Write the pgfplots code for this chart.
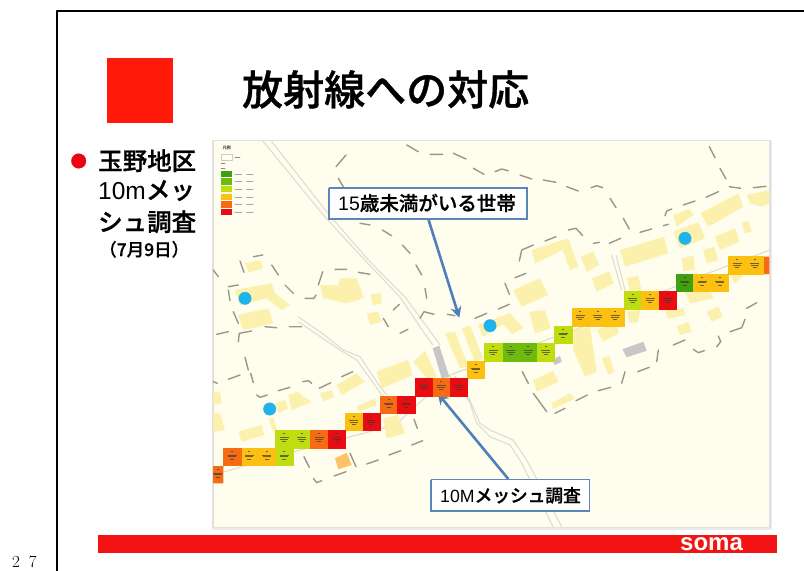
\documentclass[border=0pt]{standalone}
\usepackage{fontspec}
\usepackage{pgfplots}
\pgfplotsset{compat=1.18}
\usetikzlibrary{arrows.meta}
\newfontfamily\sans{Liberation Sans}
\newfontfamily\cjk{Noto Sans CJK JP}
\newfontfamily\cjkm[FakeBold=0.9]{Noto Sans CJK JP Medium}
\definecolor{slidered}{HTML}{FF1A0A}
\definecolor{barred}{HTML}{F51212}
\definecolor{mapbg}{HTML}{FEFDEE}
\definecolor{house}{HTML}{FBF1AC}
\definecolor{boundary}{HTML}{98988A}
\definecolor{road}{HTML}{DEDED0}
\definecolor{callout}{HTML}{5A86BC}
\definecolor{arrowblue}{HTML}{4F7FBA}
\definecolor{dot}{HTML}{1FB2EC}
\definecolor{bullet}{HTML}{EC0510}
\definecolor{classA}{HTML}{3FA012}
\definecolor{classB}{HTML}{6DBB0E}
\definecolor{classC}{HTML}{BFDD10}
\definecolor{classD}{HTML}{FBC011}
\definecolor{classE}{HTML}{F56C14}
\definecolor{classF}{HTML}{EA0C12}
% three short strokes: the reading printed inside a mesh cell
\pgfdeclareplotmark{cellnote}{%
  \pgfsetlinewidth{0.8bp}%
  \pgfpathmoveto{\pgfqpoint{-1bp}{5.5bp}}\pgfpathlineto{\pgfqpoint{1bp}{5.5bp}}%
  \pgfpathmoveto{\pgfqpoint{-4.5bp}{1.5bp}}\pgfpathlineto{\pgfqpoint{4.5bp}{1.5bp}}%
  \pgfpathmoveto{\pgfqpoint{-4bp}{0bp}}\pgfpathlineto{\pgfqpoint{4bp}{0bp}}%
  \pgfpathmoveto{\pgfqpoint{-2bp}{-2.5bp}}\pgfpathlineto{\pgfqpoint{2bp}{-2.5bp}}%
  \pgfusepathqstroke}
\pgfplotsset{
  meshcells/.style={only marks, mark=square*, mark size=8.7bp,
    mark options={draw=#1, fill=#1, line width=0.3bp}},
  blocks/.style={draw=none, fill=#1, unbounded coords=jump},
  strokes/.style={no marks, color=#1, unbounded coords=jump, line cap=round, line join=round}
}
\begin{document}
\begin{tikzpicture}
\path[use as bounding box] (0,0) rectangle (804bp,571bp);
\begin{axis}[
  at={(0,0)}, anchor=south west,
  width=804bp, height=571bp, scale only axis,
  xmin=0, xmax=804, ymin=0, ymax=571, y dir=reverse,
  hide axis, clip=true
]
% slide frame
\addplot[strokes=black, line width=2bp] coordinates {(57,571) (57,11) (804,11)};
\addplot[blocks=slidered] coordinates {(106.7,57.7) (172.7,57.7) (172.7,122.7) (106.7,122.7)};
\addplot[blocks=barred] coordinates {(98,535) (777,535) (777,553) (98,553)};
\addplot[only marks, mark=*, mark size=7.3bp, mark options={draw=bullet, fill=bullet}] coordinates {(78.7,161)};

% map sheet
\addplot[strokes=black!8, line width=2bp] coordinates {(771,141) (771,529) (213,529)};
\addplot[blocks=mapbg] coordinates {(213,140.5) (770,140.5) (770,527.5) (213,527.5)};
\addplot[strokes=black!12, line width=1.2bp] coordinates {(213,140.5) (770,140.5) (770,527.5) (213,527.5) (213,140.5)};

% roads
\addplot[strokes=road, line width=1.1bp] coordinates {
 (263.3,141.5) (323.3,215) (360,255) (400,297) (423.3,331.7) (433,345) (nan,nan)
 (271.7,141.5) (326.7,211.7) (366.7,258.3) (405,297) (428,328.3) (440,345) (nan,nan)
 (449,376) (468.3,396.7) (480,423.3) (490,430) (513,440) (526.7,460) (561.7,526.7) (nan,nan)
 (455,376) (470,403) (476.7,423.3) (490,436.7) (510,445) (521.7,463) (553,526.7) (nan,nan)
 (298.3,316.7) (310,325) (320,331.7) (343.3,350) (360,356.7) (380,386.7) (386.7,395) (nan,nan)
 (298.3,321.7) (313,331.7) (340,350) (356.7,360) (373.3,383) (381.7,395) (nan,nan)
 (611.7,255) (621.7,290) (nan,nan)
 (616,255) (625,290) (nan,nan)
 (213,475) (300,450) (395,425) (450,375) (583,326.7) (690,280) (770,250)
};

% buildings
\addplot[blocks=house] coordinates {
 (245,263.3) (260,260) (262.7,268.3) (248.3,272.3) (nan,nan)
 (235,290) (271.7,283.3) (275,293.3) (290,305) (281.7,310) (266.7,298.3) (240,305) (nan,nan)
 (238.3,315) (268.3,308.3) (273.3,323.3) (243.3,330) (nan,nan)
 (320,285) (338.3,285) (340,278.3) (356.7,278.3) (364,298.3) (346.7,303.3) (323.3,298.3) (nan,nan)
 (370.7,294.3) (380.7,293.3) (381.7,303.3) (372.7,305) (nan,nan)
 (366.7,313.3) (378.3,311.7) (381.7,321.7) (370,325) (nan,nan)
 (531.7,250) (568.3,238.3) (578.3,266.7) (570,270) (562.7,250) (535,263.3) (nan,nan)
 (580.7,256.7) (593.3,251.7) (599.3,265) (586.7,271.7) (nan,nan)
 (591.7,278.3) (609.3,271.7) (614,283.3) (596.7,291.7) (nan,nan)
 (620,250) (664,236.7) (668.3,253.3) (625,266.7) (nan,nan)
 (513.3,290) (540,278.3) (548.3,295) (521.7,306.7) (nan,nan)
 (529.3,311.7) (545,310) (550.7,328.3) (535,333.3) (nan,nan)
 (478,325) (510,313) (523,328) (512,334) (503,324) (483,337) (nan,nan)
 (673.3,215) (689.3,209) (693.3,215) (676.7,226.7) (nan,nan)
 (700.7,213.3) (738.3,193.3) (743.3,206.7) (708.3,226.7) (nan,nan)
 (673.3,231.7) (698.3,222.3) (705,238.3) (680,248.3) (nan,nan)
 (715,236.7) (735,228.3) (739.3,241.7) (720,250) (nan,nan)
 (741.7,223.3) (748.3,221) (751.7,231.7) (745,233.3) (nan,nan)
 (746.7,195) (769.3,190) (769.3,203.3) (761.7,206.7) (750,203.3) (nan,nan)
 (681.7,258.3) (693.3,255.7) (695,270) (683.3,271) (nan,nan)
 (703.3,250) (714,246.7) (718.3,260) (706.7,263.3) (nan,nan)
 (626.7,278.3) (638.3,275.7) (641.7,291.7) (630,291.7) (nan,nan)
 (685,291.7) (710,291.7) (713.3,298.3) (690,303.3) (nan,nan)
 (730,275) (743.3,275) (735,283.3) (nan,nan)
 (665,310) (683.3,308.3) (685,315) (668.3,319) (nan,nan)
 (706.7,311.7) (718.3,306.7) (722.7,316.7) (711.7,321.7) (nan,nan)
 (676.7,326.7) (688.3,321.7) (691.7,331.7) (680,335) (nan,nan)
 (626.7,311.7) (640,310) (638.3,321.7) (630,323.3) (nan,nan)
 (596.7,330) (616.7,323.3) (618.3,333.3) (603.3,341.7) (nan,nan)
 (573,330) (590,327) (596.7,371.7) (585,376.7) (573.3,350) (nan,nan)
 (601.7,358.3) (609.3,356) (614,371.7) (608.3,375) (nan,nan)
 (533.3,380) (553.3,370.7) (558.3,381.7) (536.7,391.7) (nan,nan)
 (551.7,403.3) (570,393.3) (575,398.3) (553.3,409) (nan,nan)
 (445,333.3) (455,331.7) (468.3,366.7) (460,368.3) (nan,nan)
 (461.7,328.3) (470,325.7) (483.3,358.3) (475,361.7) (nan,nan)
 (376.7,371.7) (408.3,360) (412.7,375) (381.7,388.3) (nan,nan)
 (413,362) (425,350.7) (436.7,376.7) (426.7,378.3) (nan,nan)
 (336.7,385) (356.7,373.3) (365,381.7) (341.7,395) (nan,nan)
 (320,393.3) (331.7,390) (334,396.7) (323.3,401.7) (nan,nan)
 (288.3,395) (298.3,391.7) (303.3,396.7) (311.7,401.7) (291.7,410) (nan,nan)
 (275,403.3) (285,400) (288.3,408.3) (278.3,413.3) (nan,nan)
 (238.3,431.7) (261.7,425) (264,435) (241.7,441.7) (nan,nan)
 (268.3,418.3) (273.3,417.3) (276.7,430) (273.3,431.7) (nan,nan)
 (213.3,391.7) (220,391.7) (221.7,403.3) (213.3,405) (nan,nan)
 (213.3,413.3) (220,413.3) (225,430) (213.3,431.7) (nan,nan)
 (356.7,406.7) (375,398.3) (376.7,405) (358.3,411.7) (nan,nan)
 (383.3,418.3) (398.3,415) (405,433.3) (386.7,438.3)
};
\addplot[blocks=orange!40!house] coordinates {(335,458.3) (346.7,452.7) (351.7,465) (338.3,469.3)};
\addplot[blocks=black!22] coordinates {
 (432.7,348.3) (439.3,345.7) (449.3,376.7) (441.7,378.3) (nan,nan)
 (622.3,349.3) (643.3,341.7) (646.7,350.7) (626.7,357.3) (nan,nan)
 (551.7,360) (560,356) (561.7,361.7) (555,365)
};

% dashed plot boundaries
\addplot[strokes=boundary, line width=1.4bp] coordinates {
 (336,166.7) (346,155) (nan,nan) (338.3,178.3) (343.3,186.7) (nan,nan)
 (406.7,145) (418.3,151.7) (nan,nan) (430,154.3) (442.7,154.3) (nan,nan)
 (453.3,153.3) (466,159) (nan,nan) (473.3,168.3) (484,174.3) (nan,nan)
 (360,223.3) (370,225) (nan,nan) (382.3,230) (391.7,235.7) (nan,nan)
 (402.3,245) (410,253.3) (nan,nan) (416,265) (421.7,275) (nan,nan)
 (425,288.3) (426.7,298.3) (nan,nan) (420,318.3) (424,311.7) (434,314.3) (nan,nan)
 (447.3,314.3) (455,315.7) (nan,nan) (475,318.3) (486.7,313.3) (nan,nan)
 (253.3,256.7) (262.7,255) (nan,nan) (240,261) (244,272.3) (nan,nan)
 (271.7,265) (278.3,275) (nan,nan) (213.3,270) (218.3,276.7) (nan,nan)
 (228.3,286.7) (238.3,285) (nan,nan) (228.3,290) (230,300.7) (nan,nan)
 (285,285) (293.3,293.3) (nan,nan) (305,298.3) (314,298.3) (316,295) (nan,nan)
 (318.3,285) (322.7,271.7) (nan,nan) (335,269.3) (346.7,269.3) (nan,nan)
 (358.3,272.3) (370,274.3) (nan,nan) (393.3,310) (399.3,304.3) (nan,nan)
 (383.3,318.3) (388.3,326.7) (nan,nan) (233.3,311.7) (238.3,323.3) (nan,nan)
 (265,326.7) (276.7,327.7) (nan,nan) (289.3,326.7) (301.7,326.7) (nan,nan)
 (216.7,334.3) (228.3,331.7) (nan,nan) (238.3,341.7) (239.3,333.3) (251.7,331) (nan,nan)
 (495,171.7) (501.7,169) (508.3,170.7) (nan,nan) (520,175) (531.7,179) (nan,nan)
 (543.3,180) (556,182.3) (nan,nan) (566.7,186.7) (578.3,191) (nan,nan)
 (591,187.7) (596.7,185.7) (602.7,187.7) (nan,nan) (610,198.3) (616,207.7) (nan,nan)
 (623.3,218.3) (629.3,229) (nan,nan) (640,232.3) (651.7,229) (nan,nan)
 (663.3,225.7) (668.3,224.3) (nan,nan) (665,215.7) (666.7,211) (671.7,209) (nan,nan)
 (683.3,205) (695,201) (nan,nan) (706,197.3) (718.3,191.7) (nan,nan)
 (729.3,186.7) (740.7,188.3) (nan,nan) (753.3,187.7) (766,186.3) (nan,nan)
 (709.3,146.7) (715,157.7) (nan,nan) (720,168.3) (726,179) (nan,nan)
 (568.3,230) (576,228.3) (582.7,235.7) (nan,nan) (545,241) (556,236.7) (nan,nan)
 (519.3,261) (521.7,250) (533.3,245) (nan,nan)
 (593.3,243.3) (599.3,242.3) (nan,nan) (609.3,243.3) (620.7,238.3) (nan,nan)
 (515,277.7) (526,273.3) (nan,nan) (505,283.3) (509.3,294.3) (nan,nan)
 (498.3,309) (509.3,304.3) (nan,nan) (746.7,308.3) (756.7,302.7) (nan,nan)
 (730,331.7) (741.7,327.7) (745,319.3) (nan,nan)
 (673.3,345) (685,340) (nan,nan) (693.3,349.3) (698.3,352.7) (704.3,350.7) (nan,nan)
 (716.7,346.7) (720.7,341.7) (718.3,336) (nan,nan)
 (658.3,350) (656.7,361.7) (nan,nan) (637.7,371.7) (649.3,367.3) (nan,nan)
 (621.7,383.3) (625,371.7) (nan,nan) (598.3,390.7) (610.7,387.3) (nan,nan)
 (576,400.7) (587.3,395) (nan,nan) (555,413.3) (565,408.3) (nan,nan)
 (533.3,393.3) (546.7,411.7) (nan,nan) (522.3,371.7) (528.3,383.3) (nan,nan)
 (400,333.3) (408,329.3) (nan,nan)
 (245,357.3) (248.3,370) (nan,nan) (250.7,373.3) (253.3,382.7) (nan,nan)
 (213.3,381.7) (217.3,383.3) (nan,nan) (228.3,379.3) (240,375) (nan,nan)
 (256.7,395) (260,397.3) (267.3,395) (nan,nan) (278.3,390.7) (290,387.3) (nan,nan)
 (302.7,381.7) (308.3,380.7) (311.7,383.3) (nan,nan) (319.3,388.3) (330.7,382.7) (nan,nan)
 (341.7,376.7) (352.7,371.7) (nan,nan)
 (304,456.7) (309.3,467.3) (nan,nan) (313.3,478.3) (316.7,482.7) (321.7,480.7) (nan,nan)
 (334,476) (346,471.7) (nan,nan) (350,453.3) (356,466.7) (nan,nan)
 (366.7,464) (378.3,460) (nan,nan) (389,455) (400.7,450.7) (nan,nan)
 (411.7,445) (422.7,440.7) (nan,nan) (414,419.3) (417.3,428.3)
};

% households with children under 15
\addplot[only marks, mark=*, mark size=6.2bp, mark options={draw=dot, fill=dot}] table {
x y
245 298.3
490 325.7
685 238.3
269.7 409
};

% 10 m mesh cells, one series per dose class
\addplot[meshcells=classB] table {
x y
510.7 352
528.1 352
};
\addplot[meshcells=classA] table {
x y
684.9 282.6
};
\addplot[meshcells=classC] table {
x y
284.3 456.7
284.3 439.3
301.7 439.3
493.3 352
545.6 352
563.0 334.6
632.7 300
};
\addplot[meshcells=classD] table {
x y
249.4 456.7
266.8 456.7
353.9 421.9
475.9 369.5
580.4 317.2
597.8 317.2
615.2 317.2
650.1 300
702.3 282.6
719.8 282.6
737.2 265.3
754.6 265.3
};
\addplot[meshcells=classE] table {
x y
232.0 456.7
319.1 439.3
388.8 404.5
441.0 387
};
\addplot[meshcells=classF] table {
x y
336.5 439.3
371.4 421.9
406.2 404.5
423.6 387
458.5 387
667.5 300
};
% cells cut off by the edge of the sheet
\addplot[blocks=classE] coordinates {
 (213,466) (223.3,466) (223.3,483.4) (213,483.4) (nan,nan)
 (763.4,256.7) (769.3,256.7) (769.3,274) (763.4,274)
};
\addplot[only marks, mark=cellnote, mark options={draw=black!75!olive, opacity=0.7}] table {
x y
217.5 474.7
232.0 456.7
249.4 456.7
266.8 456.7
284.3 456.7
284.3 439.3
301.7 439.3
319.1 439.3
336.5 439.3
353.9 421.9
371.4 421.9
388.8 404.5
406.2 404.5
423.6 387
441.0 387
458.5 387
475.9 369.5
493.3 352
510.7 352
528.1 352
545.6 352
563.0 334.6
580.4 317.2
597.8 317.2
615.2 317.2
632.7 300
650.1 300
667.5 300
684.9 282.6
702.3 282.6
719.8 282.6
737.2 265.3
754.6 265.3
};

% map legend
\addplot[strokes=black!20, line width=0.5bp] coordinates {(221,154.3) (232.7,154.3) (232.7,160) (221,160) (221,154.3)};
\addplot[strokes=black!45, line width=0.6bp] coordinates {
 (221,163.5) (225,163.5) (nan,nan) (221,167.8) (225,167.8) (nan,nan) (235,157) (240,157)};
\addplot[blocks=classA] coordinates {(221,171) (232.3,171) (232.3,177.3) (221,177.3)};
\addplot[blocks=classB] coordinates {(221,178.3) (232.3,178.3) (232.3,184.7) (221,184.7)};
\addplot[blocks=classC] coordinates {(221,186) (232.3,186) (232.3,192.3) (221,192.3)};
\addplot[blocks=classD] coordinates {(221,193.7) (232.3,193.7) (232.3,200) (221,200)};
\addplot[blocks=classE] coordinates {(221,201) (232.3,201) (232.3,207.7) (221,207.7)};
\addplot[blocks=classF] coordinates {(221,209) (232.3,209) (232.3,215) (221,215)};
\addplot[strokes=black!35, line width=0.6bp] coordinates {
 (235,174.2) (241.7,174.2) (nan,nan) (246.7,174.2) (253,174.2) (nan,nan)
 (235,181.5) (241.7,181.5) (nan,nan) (246.7,181.5) (253,181.5) (nan,nan)
 (235,189.2) (241.7,189.2) (nan,nan) (246.7,189.2) (253,189.2) (nan,nan)
 (235,196.8) (241.7,196.8) (nan,nan) (246.7,196.8) (253,196.8) (nan,nan)
 (235,204.3) (241.7,204.3) (nan,nan) (246.7,204.3) (253,204.3) (nan,nan)
 (235,212) (241.7,212) (nan,nan) (246.7,212) (253,212)
};
\node[anchor=center, inner sep=0pt, font=\cjk\bfseries\fontsize{4.2bp}{5bp}\selectfont, text=black!70] at (axis cs:226.7,148.3) {凡例};

% callouts and their arrows
\addplot[arrowblue, line width=2.6bp, no marks, -{Stealth[length=11bp,width=11bp]}] coordinates {(428.3,219) (459.3,317.7)};
\addplot[arrowblue, line width=2.6bp, no marks, -{Stealth[length=11bp,width=11bp]}] coordinates {(508.3,479) (437.7,393.3)};
\addplot[fill=white, draw=callout, line width=1.6bp] coordinates {(328.7,188) (526.7,188) (526.7,219) (328.7,219) (328.7,188)};
\addplot[fill=white, draw=callout, line width=1.6bp] coordinates {(430.7,479.5) (589.3,479.5) (589.3,511) (430.7,511) (430.7,479.5)};

\node[anchor=base west, inner sep=0pt, font=\fontsize{19.5bp}{22bp}\selectfont] at (axis cs:338,210.5)
  {{\sans 15}{\cjkm 歳未満がいる世帯}};
\node[anchor=base west, inner sep=0pt, font=\fontsize{17.7bp}{22bp}\selectfont] at (axis cs:440,502)
  {{\sans 10M}{\cjkm メッシュ調査}};

% slide text
\node[anchor=base west, inner sep=0pt, font=\cjkm\fontsize{41bp}{46bp}\selectfont] at (axis cs:242,105) {放射線への対応};
\node[anchor=base west, inner sep=0pt, font=\cjkm\fontsize{24.5bp}{28bp}\selectfont] at (axis cs:98,170) {玉野地区};
\node[anchor=base west, inner sep=0pt, font=\fontsize{24.5bp}{28bp}\selectfont] at (axis cs:98,199) {{\sans 10m}{\cjkm メッ}};
\node[anchor=base west, inner sep=0pt, font=\cjkm\fontsize{24.5bp}{28bp}\selectfont] at (axis cs:98,231) {シュ調査};
\node[anchor=base west, inner sep=0pt, font=\cjkm\fontsize{17.5bp}{20bp}\selectfont] at (axis cs:99,256) {（7月9日）};
\node[anchor=base west, inner sep=0pt, text=white, font=\sans\bfseries\fontsize{24bp}{26bp}\selectfont] at (axis cs:680,550.5) {soma};
\node[anchor=base west, inner sep=0pt, font=\fontsize{17bp}{18bp}\selectfont] at (axis cs:12,567.5) {2\hspace{9bp}7};
\end{axis}
\end{tikzpicture}
\end{document}
